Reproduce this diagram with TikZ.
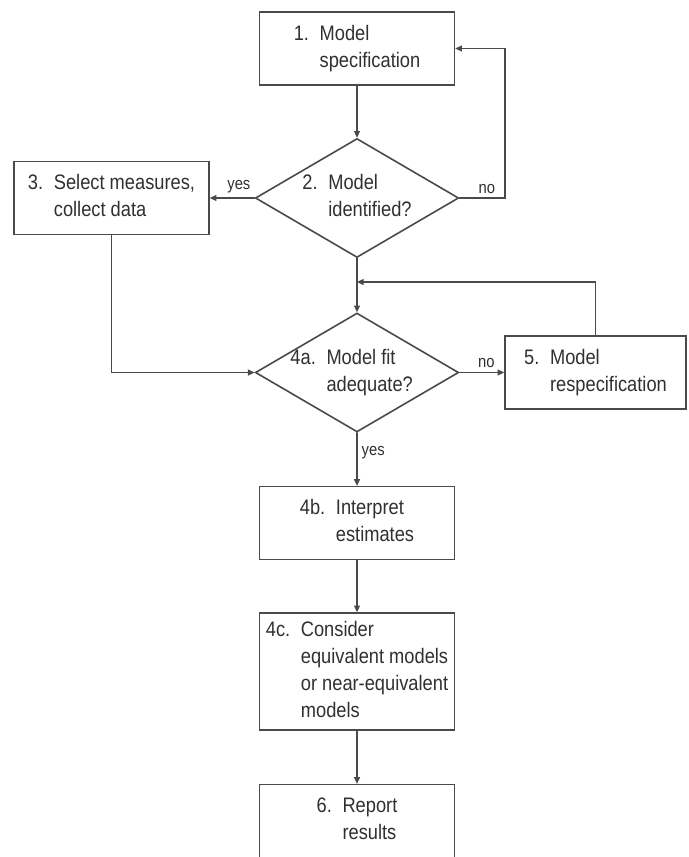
\documentclass[tikz,border=0pt]{standalone}
\usepackage{fontspec}
\setmainfont{Liberation Sans}[FakeStretch=0.87]
\usepackage{tikz}
\usetikzlibrary{arrows.meta,shapes.geometric}
\usepackage{xcolor}
\definecolor{linegray}{HTML}{4A4A4A}
\definecolor{inkgray}{HTML}{303030}
\newcommand{\numtext}[2]{#1\hspace{8pt}\begin{tabular}[t]{@{}l@{}}#2\end{tabular}}

\begin{document}
\begin{tikzpicture}[x=0.75pt,y=-0.75pt,>={Triangle[length=5pt,width=4.5pt]},line cap=round,
  box/.style={draw=linegray,line width=1.2pt,rectangle,minimum width=146.25pt,minimum height=54.5pt,inner sep=0pt,text=inkgray,font=\fontsize{15.75pt}{20.25pt}\selectfont},
  decide/.style={draw=linegray,line width=1.2pt,diamond,aspect=1.7,inner sep=-3pt,minimum width=152.5pt,minimum height=89.25pt,text=inkgray,font=\fontsize{15.75pt}{20.25pt}\selectfont},
  flow/.style={draw=linegray,line width=0.95pt,->},
  lbl/.style={text=inkgray,font=\fontsize{12.75pt}{15pt}\selectfont,inner sep=3pt}]
\useasboundingbox (0,0) rectangle (689,857);
\node[box] (spec) at (357,48.5) {\numtext{1.}{Model\\specification}};
\node[decide] (ident) at (357,198) {\numtext{2.}{Model\\identified?}};
\node[box] (select) at (111.5,198) {\numtext{3.}{Select measures,\\collect data}};
\node[decide] (fit) at (357,372.5) {\hspace*{-8pt}\numtext{4a.}{Model fit\\adequate?}};
\node[box,minimum width=135.75pt] (respec) at (595.5,372.5) {\numtext{5.}{Model\\respecification}};
\node[box] (interp) at (357,523) {\numtext{4b.}{Interpret\\estimates}};
\node[box,minimum height=87.75pt] (equiv) at (357,671.5) {\numtext{4c.}{Consider\\equivalent models\\or near-equivalent\\models}};
\node[box] (report) at (357,821) {\numtext{6.}{Report\\results}};
\coordinate (noturn) at (505,48.5);
\coordinate (merge) at (357,282);
\draw[flow] (spec) -- (ident);
\draw[flow] (ident.west) -- node[lbl,above,pos=0.35] (yes1) {yes} (select.east);
\draw[flow] (ident.east) -- node[lbl,above,pos=0.6] (no1) {no} (ident.east -| noturn) -- (noturn) -- (spec.east);
\draw[flow] (select.south) |- (fit.west);
\draw[flow] (ident) -- (fit);
\draw[flow] (fit.east) -- node[lbl,above,pos=0.6] (no2) {no} (respec.west);
\draw[flow] (respec.north) |- (merge);
\draw[flow] (fit) -- node[lbl,right,pos=0.38] (yes2) {yes} (interp);
\draw[flow] (interp) -- (equiv);
\draw[flow] (equiv) -- (report);
\end{tikzpicture}
\end{document}
